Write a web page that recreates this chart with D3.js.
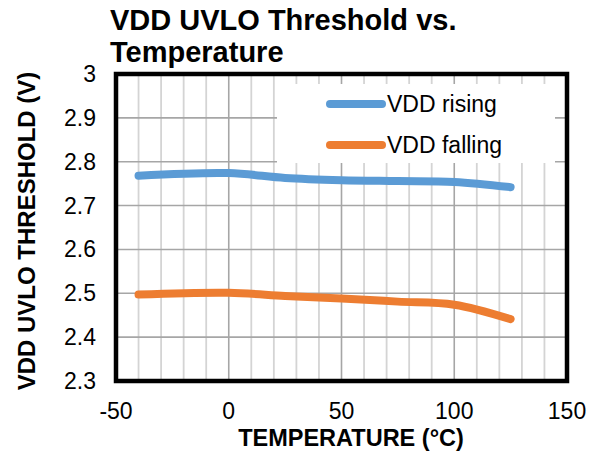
<!DOCTYPE html>
<html><head><meta charset="utf-8">
<script src="https://cdn.jsdelivr.net/npm/d3@7"></script>
<style>body{margin:0;background:#fff}svg{display:block;font-family:"Liberation Sans",Arial,sans-serif}</style>
</head><body>
<svg id="c" width="595" height="453"></svg>
<script>
const temps = [-40, 0, 25, 50, 75, 100, 125];
const vddRising = [2.768, 2.774, 2.763, 2.758, 2.756, 2.754, 2.742];
const vddFalling = [2.497, 2.501, 2.494, 2.488, 2.481, 2.474, 2.441];
const seriesNames = ["VDD rising", "VDD falling"];
const seriesColors = ["#5B9BD5", "#ED7D31"];
const xTicks = [-50, 0, 50, 100, 150];
const yTicks = [2.3, 2.4, 2.5, 2.6, 2.7, 2.8, 2.9, 3];

const svg = d3.select("#c");
const L = 116, R = 567, T = 74, B = 381;
const x = d3.scaleLinear().domain([-50, 150]).range([L, R]);
const y = d3.scaleLinear().domain([2.3, 3]).range([B, T]);

// minor vertical grid every 10
const g = svg.append("g");
g.selectAll(".vm").data(d3.range(-40, 150, 10).filter(v => v % 50 !== 0)).enter().append("line")
  .attr("x1", d => x(d)).attr("x2", d => x(d)).attr("y1", T).attr("y2", B)
  .attr("stroke", "#d4d4d4").attr("stroke-width", 1.8);
g.selectAll(".vM").data(xTicks.slice(1, -1)).enter().append("line")
  .attr("x1", d => x(d)).attr("x2", d => x(d)).attr("y1", T).attr("y2", B)
  .attr("stroke", "#a6a6a6").attr("stroke-width", 1.6);
g.selectAll(".h").data(yTicks.slice(1, -1)).enter().append("line")
  .attr("x1", L).attr("x2", R).attr("y1", d => y(d)).attr("y2", d => y(d))
  .attr("stroke", "#a6a6a6").attr("stroke-width", 1.6);

// legend background
svg.append("rect").attr("x", 277).attr("y", 84).attr("width", 278).attr("height", 79).attr("fill", "#fff");

// lines
const line = d3.line().x(d => x(d[0])).y(d => y(d[1])).curve(d3.curveCatmullRom.alpha(0.5));
[vddRising, vddFalling].forEach((vals, i) => {
  svg.append("path").datum(temps.map((t, j) => [t, vals[j]]))
    .attr("d", line).attr("fill", "none").attr("stroke", seriesColors[i])
    .attr("stroke-width", 8).attr("stroke-linecap", "round").attr("stroke-linejoin", "round");
});

// border
svg.append("rect").attr("x", L).attr("y", T).attr("width", R - L).attr("height", B - T)
  .attr("fill", "none").attr("stroke", "#000").attr("stroke-width", 4.5);

// axes tick labels
svg.selectAll(".xt").data(xTicks).enter().append("text")
  .attr("x", d => x(d)).attr("y", 419).attr("text-anchor", "middle")
  .attr("font-size", 23).text(d => d);
svg.selectAll(".yt").data(yTicks).enter().append("text")
  .attr("x", 96).attr("y", d => y(d) + 8).attr("text-anchor", "end")
  .attr("font-size", 23).text(d => d3.format("")(d));

// axis titles
svg.append("text").attr("x", 351).attr("y", 446).attr("text-anchor", "middle")
  .attr("font-size", 23.5).attr("font-weight", "bold").text("TEMPERATURE (°C)");
svg.append("text").attr("transform", "translate(35,231) rotate(-90)").attr("text-anchor", "middle")
  .attr("font-size", 24).attr("font-weight", "bold").text("VDD UVLO THRESHOLD (V)");

// title
svg.append("text").attr("x", 110).attr("y", 30).attr("font-size", 29).attr("font-weight", "bold").text("VDD UVLO Threshold vs.");
svg.append("text").attr("x", 110).attr("y", 62).attr("font-size", 29).attr("font-weight", "bold").text("Temperature");

// legend
seriesNames.forEach((n, i) => {
  const ly = 104 + i * 41;
  svg.append("line").attr("x1", 330).attr("x2", 382).attr("y1", ly).attr("y2", ly)
    .attr("stroke", seriesColors[i]).attr("stroke-width", 8).attr("stroke-linecap", "round");
  svg.append("text").attr("x", 387).attr("y", ly + 8).attr("font-size", 23).text(n);
});
</script>
</body></html>
